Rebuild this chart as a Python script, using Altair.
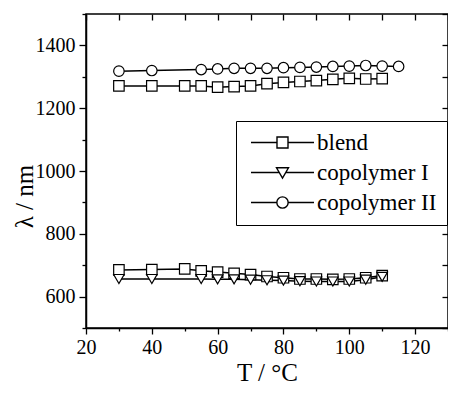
import altair as alt
import pandas as pd

# ---- data ----
T_blend = [30, 40, 50, 55, 60, 65, 70, 75, 80, 85, 90, 95, 100, 105, 110]
blend_high = [1271, 1271, 1271, 1271, 1267, 1269, 1271, 1278, 1282, 1285, 1288, 1292, 1295, 1293, 1294]
blend_low = [685, 686, 688, 682, 678, 674, 670, 664, 660, 656, 656, 655, 656, 660, 667]

T_cop1 = [30, 40, 55, 60, 65, 70, 75, 80, 85, 90, 95, 100, 105, 110]
cop1 = [656, 656, 656, 655, 655, 654, 652, 651, 649, 648, 648, 648, 654, 663]

T_cop2 = [30, 40, 55, 60, 65, 70, 75, 80, 85, 90, 95, 100, 105, 110, 115]
cop2 = [1318, 1320, 1323, 1325, 1327, 1327, 1327, 1329, 1330, 1331, 1333, 1334, 1336, 1334, 1333]

series_names = ["blend", "copolymer I", "copolymer II"]

rows = []
for t, v in zip(T_blend, blend_high):
    rows.append({"T": t, "lam": v, "series": "blend", "curve": "blend_high"})
for t, v in zip(T_blend, blend_low):
    rows.append({"T": t, "lam": v, "series": "blend", "curve": "blend_low"})
for t, v in zip(T_cop1, cop1):
    rows.append({"T": t, "lam": v, "series": "copolymer I", "curve": "cop1"})
for t, v in zip(T_cop2, cop2):
    rows.append({"T": t, "lam": v, "series": "copolymer II", "curve": "cop2"})
df = pd.DataFrame(rows)

FONT = "Liberation Serif"
xscale = alt.Scale(domain=[20, 130], nice=False, zero=False)
yscale = alt.Scale(domain=[500, 1500], nice=False, zero=False)

x_ticks = list(range(20, 131, 10))
y_ticks = list(range(500, 1501, 100))

common_axis = dict(labelFont=FONT, labelFontSize=20, labelColor="black",
                   titleFont=FONT, titleFontSize=25, titleFontWeight="normal",
                   titleColor="black", domainColor="black", domainWidth=1.5,
                   tickColor="black", tickWidth=1.3, grid=False, format="d")

# top/right frame ticks (inward) drawn with the line layer
lines = alt.Chart(df).mark_line(color="black", strokeWidth=1.5).encode(
    x=alt.X("T:Q", scale=xscale,
            axis=alt.Axis(orient="top", values=x_ticks, labels=False, title=None,
                          tickSize=alt.ExprRef("-6"), domain=False, grid=False,
                          tickColor="black", tickWidth=1.3)),
    y=alt.Y("lam:Q", scale=yscale,
            axis=alt.Axis(orient="right", values=y_ticks, labels=False, title=None,
                          tickSize=alt.ExprRef("-6"), domain=False, grid=False,
                          tickColor="black", tickWidth=1.3)),
    detail="curve:N",
    order="T:Q",
)

points = alt.Chart(df).mark_point(filled=True, fill="white", stroke="black",
                                  strokeWidth=1.2, size=110, opacity=1).encode(
    x=alt.X("T:Q", scale=xscale,
            axis=alt.Axis(orient="bottom", values=x_ticks,
                          labelExpr="datum.value % 20 === 0 && datum.value <= 120 ? datum.label : ''",
                          tickSize={"condition": {"test": "datum.value % 20 === 0", "value": 6}, "value": 3},
                          title="T / \u00b0C", labelFlush=False, labelOverlap=False,
                          labelPadding=3, titlePadding=3, **common_axis)),
    y=alt.Y("lam:Q", scale=yscale,
            axis=alt.Axis(orient="left", values=y_ticks,
                          labelExpr="datum.value % 200 === 0 && datum.value >= 600 && datum.value <= 1400 ? datum.label : ''",
                          tickSize={"condition": {"test": "datum.value % 200 === 0", "value": 7}, "value": 4},
                          title="\u03bb / nm", labelFlush=False, labelOverlap=False,
                          labelPadding=4, titleX=-49, titleY=182, **common_axis)),
    shape=alt.Shape("series:N",
                    scale=alt.Scale(domain=series_names,
                                    range=["square", "triangle-down", "circle"]),
                    legend=None),
)

# legend symbols: a line with the marker in the middle (size 144 -> unit = 6 px)
leg_paths = [
    "M-5.25,0H-0.917M0.917,0H5.25M-0.917,-0.917H0.917V0.917H-0.917Z",
    "M-5.25,0H-0.545M0.545,0H5.25M-1,-0.79H1L0,0.945Z",
    "M-5.25,0H-0.945M0.945,0H5.25M-0.945,0A0.945,0.945 0 1,0 0.945,0A0.945,0.945 0 1,0 -0.945,0Z",
]

legend_layer = alt.Chart(df).transform_filter("false").mark_point(
    color="black", filled=False, strokeWidth=1.4).encode(
    x=alt.X("T:Q", scale=xscale, axis=None),
    y=alt.Y("lam:Q", scale=yscale, axis=None),
    shape=alt.Shape("series:N",
                    scale=alt.Scale(domain=series_names, range=leg_paths),
                    legend=alt.Legend(orient="none", legendX=150, legendY=107,
                                      title=None, symbolSize=144,
                                      symbolStrokeColor="black", symbolFillColor="white",
                                      symbolStrokeWidth=1.4, symbolOpacity=1,
                                      symbolOffset=25,
                                      labelFont=FONT, labelFontSize=23, labelColor="black",
                                      labelOffset=23, rowPadding=6, padding=10,
                                      strokeColor="black", fillColor="white",
                                      labelLimit=400)),
)

chart = alt.layer(lines, points, legend_layer).resolve_scale(
    shape="independent"
).resolve_axis(
    x="independent", y="independent"
).properties(
    width=362, height=314,
    autosize=alt.AutoSizeParams(type="none"),
    padding={"left": 78, "top": 6, "right": 0, "bottom": 60},
).configure_view(
    stroke="black", strokeWidth=1.5
)

chart.save("out.html", embed_options={"renderer": "svg", "actions": False})
